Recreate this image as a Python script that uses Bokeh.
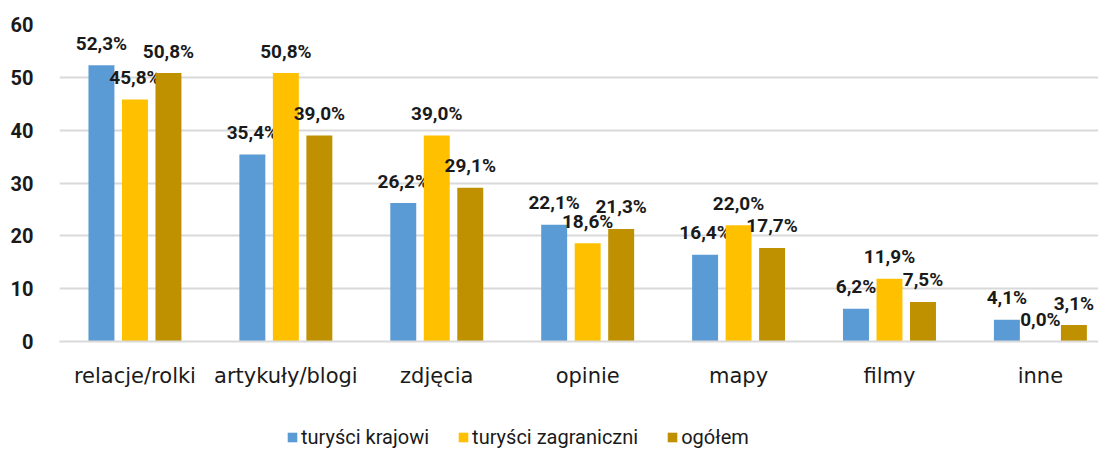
from bokeh.plotting import figure
from bokeh.layouts import column
from bokeh.models import Range1d, FixedTicker, Legend, LegendItem, ColumnDataSource
from bokeh.core.properties import value
from bokeh.embed import file_html
from bokeh.resources import INLINE

categories = ["relacje/rolki", "artykuły/blogi", "zdjęcia", "opinie", "mapy", "filmy", "inne"]
series_names = ["turyści krajowi", "turyści zagraniczni", "ogółem"]
krajowi = [52.3, 35.4, 26.2, 22.1, 16.4, 6.2, 4.1]
zagraniczni = [45.8, 50.8, 39.0, 18.6, 22.0, 11.9, 0.0]
ogolem = [50.8, 39.0, 29.1, 21.3, 17.7, 7.5, 3.1]
y_ticks = [0, 10, 20, 30, 40, 50, 60]
colors = ["#5B9BD5", "#FFC000", "#BF9000"]

FONT = "Roboto"
CAT_FONT = "DejaVu Sans"

p = figure(width=1098, height=400, output_backend="svg", toolbar_location=None,
           x_range=Range1d(-0.5, 6.385), y_range=Range1d(0, 60),
           min_border_left=59, min_border_right=0, min_border_top=24, min_border_bottom=59)
p.outline_line_color = None
p.background_fill_color = "white"
p.border_fill_color = "white"

offsets = [-0.222, 0.0, 0.222]
bar_w = 0.172
for vals, off, col in zip([krajowi, zagraniczni, ogolem], offsets, colors):
    xs = [i + off for i in range(len(categories))]
    src = ColumnDataSource(dict(x=xs, top=vals,
                                lab=[f"{v:.1f}%".replace(".", ",") for v in vals]))
    p.vbar(x="x", top="top", width=bar_w, bottom=0, source=src,
           fill_color=col, line_color=None)
    p.text(x="x", y="top", text="lab", source=src, text_align="center",
           text_baseline="middle", y_offset=-22, text_font=value(FONT),
           text_font_size="19px", text_font_style="bold", text_color="#1a1a1a")

# axes
p.xaxis.ticker = FixedTicker(ticks=list(range(len(categories))))
p.xaxis.major_label_overrides = {i: c for i, c in enumerate(categories)}
p.xaxis.major_tick_line_color = None
p.xaxis.minor_tick_line_color = None
p.xaxis.axis_line_color = "#D9D9D9"
p.xaxis.axis_line_width = 2
p.xaxis.major_label_text_font = CAT_FONT
p.xaxis.major_label_text_font_size = "21px"
p.xaxis.major_label_text_color = "#1a1a1a"
p.xaxis.major_label_standoff = 16

p.yaxis.ticker = FixedTicker(ticks=y_ticks)
p.yaxis.major_tick_line_color = None
p.yaxis.minor_tick_line_color = None
p.yaxis.axis_line_color = None
p.yaxis.major_label_text_font = FONT
p.yaxis.major_label_text_font_size = "20px"
p.yaxis.major_label_text_font_style = "bold"
p.yaxis.major_label_text_color = "#1a1a1a"
p.yaxis.major_label_standoff = 20

p.xgrid.grid_line_color = None
p.ygrid.grid_line_color = "#D9D9D9"
p.ygrid.grid_line_width = 2

# legend strip below the chart (zero-height proxy glyphs carry the colours)
lf = figure(width=1098, height=49, output_backend="svg", toolbar_location=None,
            x_range=Range1d(0, 1), y_range=Range1d(0, 1),
            x_axis_location=None, y_axis_location=None,
            min_border_left=0, min_border_right=0, min_border_top=0, min_border_bottom=0)
lf.outline_line_color = None
lf.xgrid.grid_line_color = None
lf.ygrid.grid_line_color = None
items = []
for name, col in zip(series_names, colors):
    r = lf.vbar(x=[0], top=[0], bottom=[0], width=0, fill_color=col, line_color=None)
    items.append(LegendItem(label=name, renderers=[r]))
legend = Legend(items=items, orientation="horizontal", location=(227, 0),
                label_text_font=FONT, label_text_font_size="20px",
                label_text_color="#1a1a1a", glyph_width=12, glyph_height=12,
                label_standoff=3, spacing=28, border_line_color=None,
                background_fill_alpha=0, padding=0, margin=0)
lf.add_layout(legend, "center")

layout = column(p, lf, spacing=0)
open("out.html", "w").write(file_html(layout, INLINE))
